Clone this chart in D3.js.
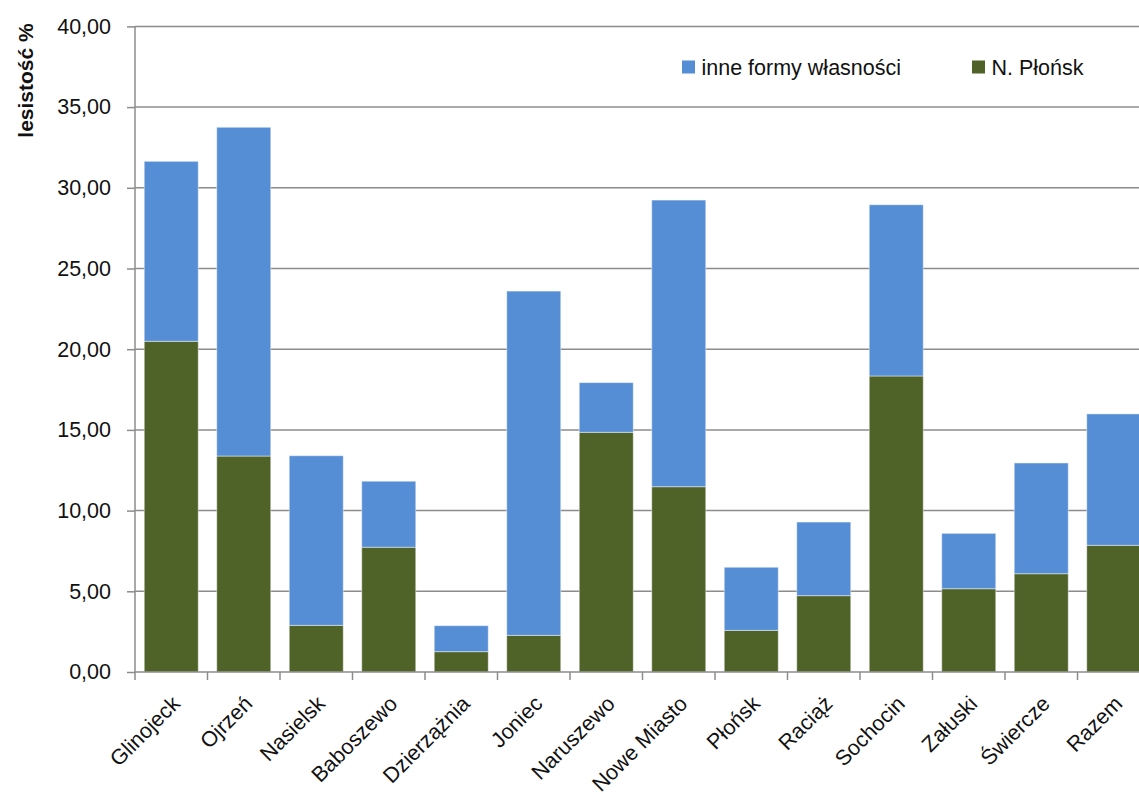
<!DOCTYPE html>
<html>
<head>
<meta charset="utf-8">
<script src="https://cdn.jsdelivr.net/npm/d3@7"></script>
<style>
  html, body { margin: 0; padding: 0; background: #fff; }
  svg { display: block; font-family: "Liberation Sans", Arial, sans-serif; }
</style>
</head>
<body>
<svg id="chart" width="1139" height="794"></svg>
<script>
const categories = ["Glinojeck", "Ojrzeń", "Nasielsk", "Baboszewo", "Dzierzążnia", "Joniec", "Naruszewo", "Nowe Miasto", "Płońsk", "Raciąż", "Sochocin", "Załuski", "Świercze", "Razem"];
const nPlonsk = [20.49, 13.38, 2.89, 7.73, 1.26, 2.27, 14.85, 11.48, 2.58, 4.73, 18.34, 5.16, 6.09, 7.85];
const inneFormy = [11.15, 20.37, 10.51, 4.09, 1.61, 21.33, 3.08, 17.76, 3.91, 4.56, 10.61, 3.43, 6.86, 8.14];
const seriesNames = ["N. Płońsk", "inne formy własności"];
const seriesColors = ["#4F6228", "#558ED5"];
const yTicks = [0, 5, 10, 15, 20, 25, 30, 35, 40];
const yTitle = "lesistość %";

const svg = d3.select("#chart");
const x0 = 135, x1 = 1150, yTop = 26.4, yBot = 672;

const rows = categories.map((c, i) => ({ cat: c, "N. Płońsk": nPlonsk[i], "inne formy własności": inneFormy[i] }));
const stacked = d3.stack().keys(seriesNames)(rows);

const x = d3.scaleBand().domain(categories).range([x0, x1]).paddingInner(0.255).paddingOuter(0.1275);
const y = d3.scaleLinear().domain([0, 40]).range([yBot, yTop]);
const color = d3.scaleOrdinal().domain(seriesNames).range(seriesColors);

// gridlines
svg.append("g").selectAll("line").data(yTicks.filter(t => t > 0)).join("line")
  .attr("x1", x0).attr("x2", x1)
  .attr("y1", d => y(d)).attr("y2", d => y(d))
  .attr("stroke", "#8c8c8c").attr("stroke-width", 1.5);

// bars
svg.append("g").selectAll("g").data(stacked).join("g")
  .attr("fill", d => color(d.key))
  .selectAll("rect").data(d => d).join("rect")
  .attr("x", d => x(d.data.cat))
  .attr("width", x.bandwidth())
  .attr("y", d => y(d[1]))
  .attr("height", d => y(d[0]) - y(d[1]))
  .attr("stroke", "rgba(255,255,255,0.45)")
  .attr("stroke-width", 1);

// y axis
const yAxis = d3.axisLeft(y).tickValues(yTicks).tickSize(8).tickPadding(16)
  .tickFormat(d => d3.format(".2f")(d).replace(".", ","));
const gy = svg.append("g").attr("transform", `translate(${x0},0)`).call(yAxis);
gy.select(".domain").attr("stroke", "#8c8c8c").attr("stroke-width", 1.5).attr("d", `M0,${yTop}V${yBot}`);
gy.selectAll(".tick line").attr("stroke", "#8c8c8c").attr("stroke-width", 1.5);
gy.selectAll(".tick text").attr("font-size", "21.5px").attr("fill", "#111")
  .attr("font-family", "'Liberation Sans', Arial, sans-serif");

// x axis line and ticks at band boundaries
const gx = svg.append("g");
gx.append("line").attr("x1", x0).attr("x2", x1).attr("y1", yBot).attr("y2", yBot)
  .attr("stroke", "#8c8c8c").attr("stroke-width", 1.5);
const boundaries = categories.map(c => x(c) - x.step() * x.paddingInner() / 2 - 0.0001 + 0.0001);
boundaries.push(x1);
gx.selectAll("line.tk").data(boundaries).join("line").attr("class", "tk")
  .attr("x1", d => d).attr("x2", d => d).attr("y1", yBot).attr("y2", yBot + 8)
  .attr("stroke", "#8c8c8c").attr("stroke-width", 1.5);

gx.selectAll("text").data(categories).join("text")
  .attr("transform", d => `translate(${x(d) + x.bandwidth() / 2 + 10},${yBot + 33}) rotate(-45)`)
  .attr("text-anchor", "end")
  .attr("font-size", "21.5px").attr("fill", "#111")
  .text(d => d);

// y title
svg.append("text")
  .attr("transform", `translate(33,80.5) rotate(-90)`)
  .attr("text-anchor", "middle")
  .attr("font-size", "21px").attr("font-weight", "bold").attr("fill", "#111")
  .text(yTitle);

// legend
const legendItems = [
  { name: "inne formy własności", x: 682 },
  { name: "N. Płońsk", x: 972 }
];
const lg = svg.append("g").selectAll("g").data(legendItems).join("g")
  .attr("transform", d => `translate(${d.x},0)`);
lg.append("rect").attr("x", 0).attr("y", 60.5).attr("width", 13).attr("height", 13)
  .attr("fill", d => color(d.name));
lg.append("text").attr("x", 19.5).attr("y", 75).attr("font-size", "21.5px").attr("fill", "#111")
  .text(d => d.name);
</script>
</body>
</html>
